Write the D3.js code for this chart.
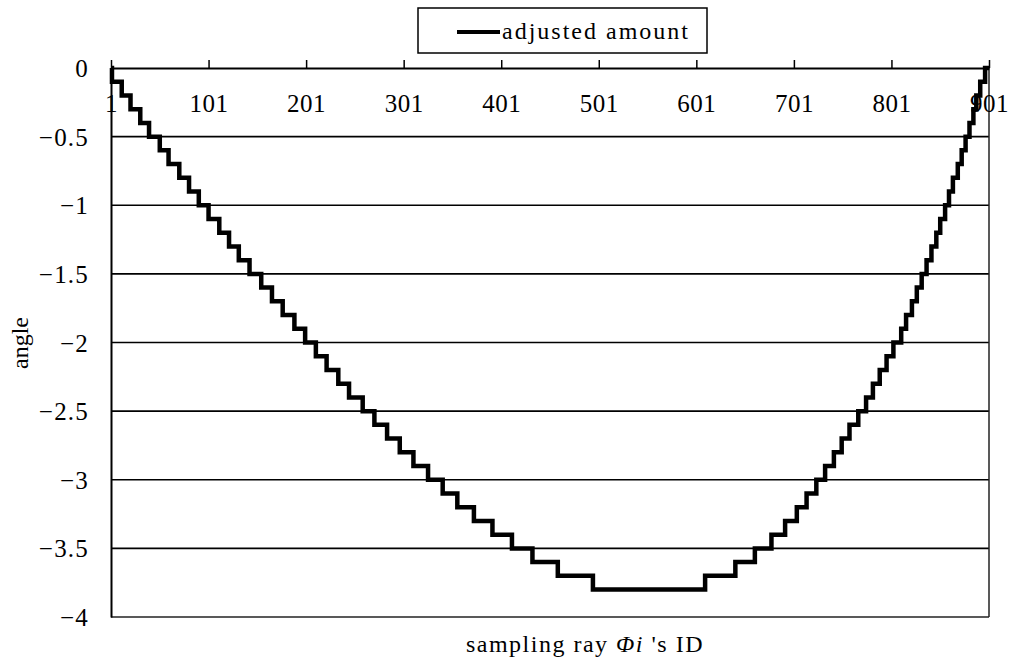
<!DOCTYPE html>
<html>
<head>
<meta charset="utf-8">
<script src="https://cdn.jsdelivr.net/npm/d3@7/dist/d3.min.js"></script>
<style>
  html, body { margin: 0; padding: 0; background: #fff; }
  svg { display: block; }
  text { font-family: "Liberation Serif", "Times New Roman", serif; fill: #000; }
</style>
</head>
<body>
<svg id="chart" width="1009" height="661"></svg>
<script>
// Sample IDs where the adjusted amount changes, and the value held from that ID on
const sampleIds = [
  1, 2, 12, 21, 31, 40, 51, 60, 71, 81, 91, 101,
  112, 122, 132, 143, 155, 166, 177, 189, 200, 211,
  222, 234, 245, 259, 271, 284, 297, 311, 326, 341,
  356, 373, 392, 412, 433, 459, 495,
  610, 641, 661, 678, 692, 704, 714, 724, 733, 742,
  750, 758, 767, 775, 782, 789, 796, 803, 811, 816,
  822, 827, 832, 837, 842, 847, 851, 856, 860, 864,
  869, 873, 877, 881, 885, 888, 892, 897, 901
];
const adjustedAmount = [
  0, -0.1, -0.2, -0.3, -0.4, -0.5, -0.6, -0.7, -0.8, -0.9, -1.0, -1.1,
  -1.2, -1.3, -1.4, -1.5, -1.6, -1.7, -1.8, -1.9, -2.0, -2.1,
  -2.2, -2.3, -2.4, -2.5, -2.6, -2.7, -2.8, -2.9, -3.0, -3.1,
  -3.2, -3.3, -3.4, -3.5, -3.6, -3.7, -3.8,
  -3.7, -3.6, -3.5, -3.4, -3.3, -3.2, -3.1, -3.0, -2.9, -2.8,
  -2.7, -2.6, -2.5, -2.4, -2.3, -2.2, -2.1, -2.0, -1.9, -1.8,
  -1.7, -1.6, -1.5, -1.4, -1.3, -1.2, -1.1, -1.0, -0.9, -0.8,
  -0.7, -0.6, -0.5, -0.4, -0.3, -0.2, -0.1, 0, 0
];
const xTickValues = [1, 101, 201, 301, 401, 501, 601, 701, 801, 901];
const yTickValues = [0, -0.5, -1, -1.5, -2, -2.5, -3, -3.5, -4];
const seriesName = "adjusted amount";
const xTitle = "sampling ray ";
const xTitleSymbol = "Φi";
const xTitleTail = " 's ID";
const yTitle = "angle";

const svg = d3.select("#chart");
const plot = { left: 111, right: 989, top: 68, bottom: 617 };

const x = d3.scaleLinear().domain([1, 901]).range([plot.left, plot.right]);
const y = d3.scaleLinear().domain([-4, 0]).range([plot.bottom, plot.top]);

svg.append("rect").attr("width", 1009).attr("height", 661).attr("fill", "#fff");

// horizontal gridlines
svg.append("g")
  .selectAll("line")
  .data(yTickValues.filter(v => v < 0 && v > -4))
  .join("line")
  .attr("x1", plot.left).attr("x2", plot.right)
  .attr("y1", d => y(d)).attr("y2", d => y(d))
  .attr("stroke", "#000").attr("stroke-width", 1.7);

// plot-area frame (right and bottom)
svg.append("line")
  .attr("x1", plot.right).attr("x2", plot.right)
  .attr("y1", plot.top).attr("y2", plot.bottom)
  .attr("stroke", "#222").attr("stroke-width", 1.5);
svg.append("line")
  .attr("x1", plot.left).attr("x2", plot.right)
  .attr("y1", plot.bottom).attr("y2", plot.bottom)
  .attr("stroke", "#222").attr("stroke-width", 1.5);

// y axis
const yAxis = svg.append("g")
  .attr("transform", `translate(${plot.left},0)`)
  .call(d3.axisLeft(y).tickValues(yTickValues).tickSize(0).tickPadding(22)
    .tickFormat(d => d === 0 ? "0" : d3.format(".1~f")(d)));
yAxis.select(".domain").attr("stroke", "#000").attr("stroke-width", 2);
yAxis.selectAll("text")
  .attr("font-family", "Liberation Serif, serif")
  .attr("font-size", 25)
  .attr("letter-spacing", 1.2)
  .attr("dy", "0.34em");

// x axis along the zero line, ticks pointing up, labels below
const xAxis = svg.append("g")
  .attr("transform", `translate(0,${y(0)})`)
  .call(d3.axisBottom(x).tickValues(xTickValues).tickSizeInner(-8).tickSizeOuter(0)
    .tickPadding(26).tickFormat(d3.format("d")));
xAxis.select(".domain").attr("stroke", "#000").attr("stroke-width", 2);
xAxis.selectAll(".tick line").attr("stroke", "#000").attr("stroke-width", 1.5);
xAxis.selectAll("text")
  .attr("font-family", "Liberation Serif, serif")
  .attr("font-size", 25)
  .attr("letter-spacing", 0.5);

// staircase series
const series = sampleIds.map((id, i) => ({ id, v: adjustedAmount[i] }));
const line = d3.line()
  .x(d => x(d.id))
  .y(d => y(d.v))
  .curve(d3.curveStepAfter);
svg.append("path")
  .datum(series)
  .attr("d", line)
  .attr("fill", "none")
  .attr("stroke", "#000")
  .attr("stroke-width", 4.5)
  .attr("stroke-linejoin", "miter");

// legend
const legend = svg.append("g");
legend.append("rect")
  .attr("x", 418).attr("y", 8).attr("width", 289).attr("height", 45)
  .attr("fill", "#fff").attr("stroke", "#000").attr("stroke-width", 1.5);
legend.append("line")
  .attr("x1", 457).attr("x2", 500).attr("y1", 32).attr("y2", 32)
  .attr("stroke", "#000").attr("stroke-width", 4);
legend.append("text")
  .attr("x", 502).attr("y", 39)
  .attr("font-size", 24)
  .attr("letter-spacing", 2)
  .text(seriesName);

// axis titles
svg.append("text")
  .attr("transform", "translate(28,343) rotate(-90)")
  .attr("text-anchor", "middle")
  .attr("font-size", 24)
  .text(yTitle);

const xt = svg.append("text")
  .attr("x", 585).attr("y", 652)
  .attr("text-anchor", "middle")
  .attr("font-size", 24)
  .attr("letter-spacing", 1.5);
xt.append("tspan").text(xTitle);
xt.append("tspan").attr("font-style", "italic").text(xTitleSymbol);
xt.append("tspan").text(xTitleTail);
</script>
</body>
</html>
